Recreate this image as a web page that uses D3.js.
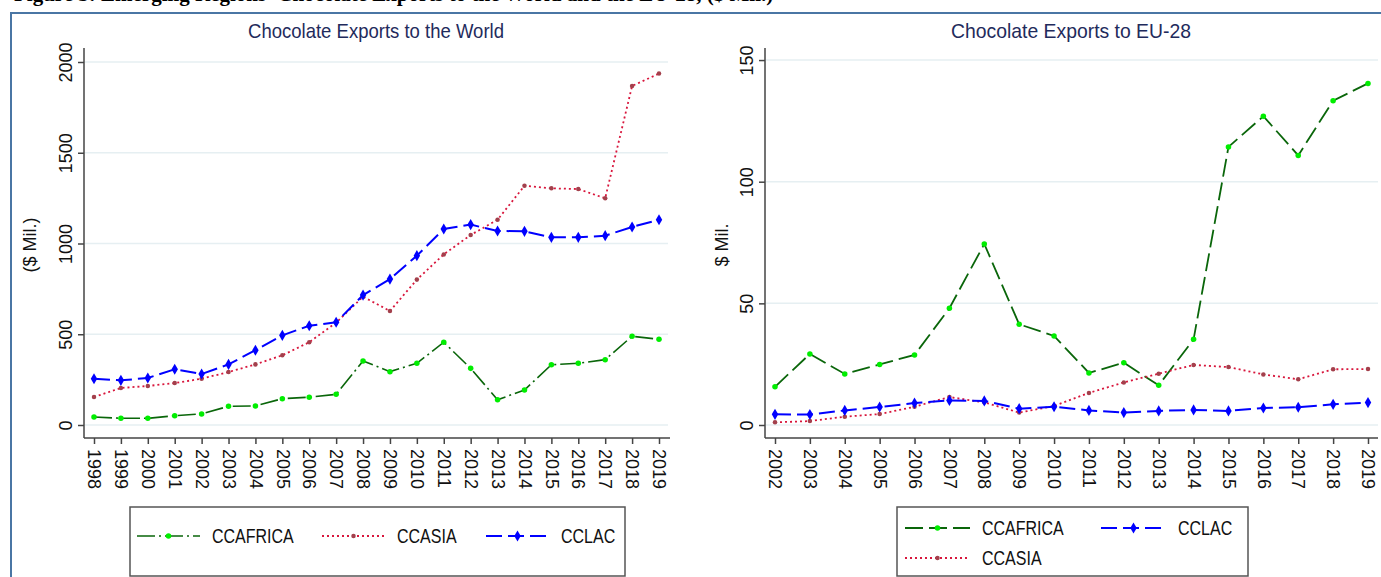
<!DOCTYPE html>
<html>
<head>
<meta charset="utf-8">
<script src="https://cdn.jsdelivr.net/npm/d3@7"></script>
<style>
  body { margin: 0; background: #fff; }
  svg { display: block; }
</style>
</head>
<body>
<script>
// data ($ Mil.)
var worldYears = d3.range(1998, 2020);
var worldAfrica = [44, 37, 37, 51, 61, 103, 105, 145, 153, 169, 353, 294, 340, 456, 312, 139, 193, 332, 340, 360, 489, 472];
var worldAsia = [154, 204, 215, 231, 255, 292, 334, 384, 456, 564, 707, 628, 801, 940, 1047, 1131, 1318, 1304, 1300, 1249, 1868, 1936];
var worldLac = [255, 246, 259, 307, 281, 334, 412, 494, 547, 566, 716, 804, 933, 1080, 1104, 1069, 1067, 1034, 1034, 1043, 1091, 1131];
var worldTicks = [0, 500, 1000, 1500, 2000];

var euYears = d3.range(2002, 2020);
var euAfrica = [15.7, 29.2, 21.0, 24.9, 28.8, 48.0, 74.4, 41.4, 36.6, 21.4, 25.6, 16.3, 35.2, 114.3, 126.9, 110.8, 133.3, 140.4];
var euAsia = [1.1, 1.6, 3.4, 4.5, 7.5, 11.5, 9.3, 5.1, 7.8, 13.2, 17.5, 21.1, 24.7, 23.8, 20.8, 18.8, 22.9, 23.0];
var euLac = [4.4, 4.3, 6.0, 7.4, 9.0, 10.1, 9.9, 6.7, 7.5, 6.0, 5.1, 5.8, 6.2, 5.8, 7.0, 7.3, 8.5, 9.2];
var euTicks = [0, 50, 100, 150];

var svg = d3.select("body").append("svg")
  .attr("width", 1381)
  .attr("height", 577);

var sans = "'Liberation Sans', Arial, sans-serif";

// squeeze a text to look like a narrow face (no narrow font installed)
function squeeze(sel, f) {
  sel.each(function() {
    var w = this.getComputedTextLength();
    d3.select(this).attr("textLength", w * f).attr("lengthAdjust", "spacingAndGlyphs");
  });
}

// caption of the figure, cut off at the top of the picture
svg.append("text")
  .attr("x", 14).attr("y", 1)
  .style("font-family", "'Liberation Serif', 'Times New Roman', serif")
  .style("font-weight", "bold").style("font-size", "21px")
  .text("Figure 3: Emerging Regions' Chocolate Exports to the World and the EU-28, ($ Mil.)");

// outer frame (top and left edges visible)
svg.append("path")
  .attr("d", "M11,577V13H1381")
  .attr("fill", "none").attr("stroke", "#4a76a4").attr("stroke-width", 2);

function drawPanel(p) {
  var g = svg.append("g");
  var x = d3.scaleLinear().domain(d3.extent(p.years)).range(p.xRange);
  var y = d3.scaleLinear().domain([0, p.yMax]).range([425, 425 - p.yMax * p.pxPerUnit]);

  // gridlines
  g.selectAll(".grid").data(p.ticks).enter().append("line")
    .attr("x1", p.axisX + 1).attr("x2", p.gridEnd)
    .attr("y1", function(d){ return y(d); }).attr("y2", function(d){ return y(d); })
    .attr("stroke", "#e6eff2").attr("stroke-width", 1.5);

  // y axis
  var ya = g.append("g").attr("transform", "translate(" + p.axisX + ",0)")
    .call(d3.axisLeft(y).tickValues(p.ticks).tickSize(6).tickSizeOuter(0).tickFormat(d3.format("d")));
  ya.select(".domain").attr("d", "M0,48V438").attr("stroke", "#444").attr("stroke-width", 1.5);
  ya.selectAll(".tick line").attr("stroke", "#444").attr("stroke-width", 1.5);
  ya.selectAll(".tick text")
    .attr("x", null).attr("dy", null)
    .attr("transform", "translate(-12,0) rotate(-90)")
    .attr("text-anchor", "middle")
    .style("font-family", sans).style("font-size", "18px").attr("fill", "#111");

  // x axis
  var xa = g.append("g").attr("transform", "translate(0,438)")
    .call(d3.axisBottom(x).tickValues(p.years).tickSize(6).tickSizeOuter(0).tickFormat(d3.format("d")));
  xa.select(".domain").attr("d", "M" + p.axisX + ",0H" + p.xEnd).attr("stroke", "#444").attr("stroke-width", 1.5);
  xa.selectAll(".tick line").attr("stroke", "#444").attr("stroke-width", 1.5);
  xa.selectAll(".tick text")
    .attr("y", null)
    .attr("transform", "translate(0,11) rotate(90)")
    .attr("dy", "0.35em")
    .attr("text-anchor", "start")
    .style("font-family", sans).style("font-size", "18px").attr("fill", "#111");

  // titles
  g.append("text")
    .attr("x", p.titleX).attr("y", 38)
    .attr("text-anchor", "middle")
    .style("font-family", sans).style("font-size", "21px")
    .attr("fill", "#1f2b5c")
    .attr("textLength", p.titleW).attr("lengthAdjust", "spacingAndGlyphs")
    .text(p.title);
  g.append("text")
    .attr("transform", "translate(" + p.yTitleX + ",245) rotate(-90)")
    .attr("text-anchor", "middle")
    .style("font-family", sans).style("font-size", "18px")
    .attr("fill", "#111")
    .text(p.yTitle);

  // series
  p.series.forEach(function(s) {
    var pts = p.years.map(function(yr, i){ return [yr, s.values[i]]; });
    var line = d3.line().x(function(d){ return x(d[0]); }).y(function(d){ return y(d[1]); });
    g.append("path").datum(pts)
      .attr("d", line)
      .attr("fill", "none")
      .attr("stroke", s.color)
      .attr("stroke-width", s.width)
      .attr("stroke-dasharray", s.dash);
    g.selectAll(null).data(pts).enter().append("path")
      .attr("transform", function(d){ return "translate(" + x(d[0]) + "," + y(d[1]) + ")"; })
      .attr("d", d3.symbol().type(s.symbol).size(s.size))
      .attr("fill", s.mark);
  });

  // legend
  var lg = g.append("g");
  lg.append("rect")
    .attr("x", p.legend.x).attr("y", 507)
    .attr("width", p.legend.w).attr("height", 69)
    .attr("fill", "#fff").attr("stroke", "#555").attr("stroke-width", 1.5);
  p.series.forEach(function(s, i) {
    var pos = p.legend.items[i];
    lg.append("line")
      .attr("x1", pos[0]).attr("x2", pos[0] + p.legend.len)
      .attr("y1", pos[1]).attr("y2", pos[1])
      .attr("stroke", s.color).attr("stroke-width", s.width)
      .attr("stroke-dasharray", s.dash);
    lg.append("path")
      .attr("transform", "translate(" + (pos[0] + p.legend.len / 2) + "," + pos[1] + ")")
      .attr("d", d3.symbol().type(s.symbol).size(s.size))
      .attr("fill", s.mark);
    lg.append("text")
      .attr("x", pos[0] + p.legend.len + 12).attr("y", pos[1])
      .attr("dy", "0.36em")
      .style("font-family", sans).style("font-size", "20px")
      .attr("fill", "#111")
      .text(s.name)
      .call(squeeze, 0.8);
  });
}

drawPanel({
  title: "Chocolate Exports to the World",
  titleX: 376,
  titleW: 256,
  yTitle: "($ Mil.)",
  yTitleX: 36,
  years: worldYears,
  xRange: [94, 659],
  axisX: 84,
  xEnd: 670,
  gridEnd: 668,
  yMax: 2000,
  pxPerUnit: 0.1815,
  ticks: worldTicks,
  series: [
    { name: "CCAFRICA", values: worldAfrica, color: "#0a660a", width: 1.6, dash: "18,4,2,4",
      symbol: d3.symbolCircle, size: 24, mark: "#00ee00" },
    { name: "CCASIA", values: worldAsia, color: "#d8163c", width: 1.8, dash: "2,3",
      symbol: d3.symbolCircle, size: 16, mark: "#a3404c" },
    { name: "CCLAC", values: worldLac, color: "#0000ff", width: 2, dash: "16,6",
      symbol: d3.symbolDiamond, size: 36, mark: "#0000ff" }
  ],
  legend: { x: 130, w: 495, len: 63, items: [[137, 536], [322, 536], [486, 536]] }
});

drawPanel({
  title: "Chocolate Exports to EU-28",
  titleX: 1071,
  titleW: 240,
  yTitle: "$ Mil.",
  yTitleX: 728,
  years: euYears,
  xRange: [775, 1368],
  axisX: 765,
  xEnd: 1378,
  gridEnd: 1378,
  yMax: 150,
  pxPerUnit: 2.433,
  ticks: euTicks,
  series: [
    { name: "CCAFRICA", values: euAfrica, color: "#0a660a", width: 1.8, dash: "18,6",
      symbol: d3.symbolCircle, size: 24, mark: "#00ee00" },
    { name: "CCASIA", values: euAsia, color: "#d8163c", width: 1.8, dash: "2,3",
      symbol: d3.symbolCircle, size: 16, mark: "#a3404c" },
    { name: "CCLAC", values: euLac, color: "#0000ff", width: 2, dash: "16,6",
      symbol: d3.symbolDiamond, size: 36, mark: "#0000ff" }
  ],
  legend: { x: 897, w: 351, len: 65, items: [[905, 528], [905, 558], [1101, 528]] }
});
</script>
</body>
</html>
